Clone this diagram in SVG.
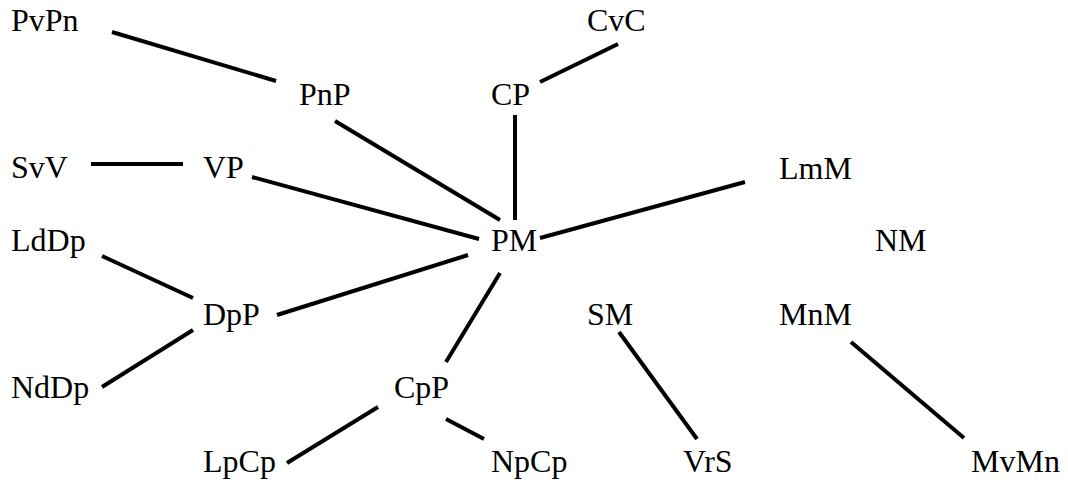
<svg xmlns="http://www.w3.org/2000/svg" width="1068" height="487" viewBox="0 0 1068 487">
<style>
.e line{stroke:#000;stroke-width:4;stroke-linecap:butt}
</style>
<rect width="1068" height="487" fill="#fff"/>
<g class="e" id="connectors">
<line x1="112" y1="32" x2="276" y2="81"/>
<line x1="91" y1="164" x2="183" y2="164"/>
<line x1="252" y1="177" x2="479" y2="239"/>
<line x1="335" y1="121" x2="500" y2="220"/>
<line x1="515" y1="115" x2="515" y2="220"/>
<line x1="540" y1="82" x2="618" y2="44"/>
<line x1="540" y1="238" x2="745" y2="182"/>
<line x1="468" y1="255" x2="277" y2="315"/>
<line x1="102" y1="256" x2="193" y2="298"/>
<line x1="102" y1="387" x2="193" y2="330"/>
<line x1="500" y1="273" x2="446" y2="362"/>
<line x1="378" y1="407" x2="287" y2="463"/>
<line x1="446" y1="419" x2="484" y2="439"/>
<line x1="619" y1="332" x2="697" y2="439"/>
<line x1="851" y1="342" x2="964" y2="438"/>
</g>
<g id="nodes" font-family="Liberation Serif, DejaVu Serif, serif" font-size="32" fill="#000">
<g id="PvPn"><text x="11" y="31">PvPn</text></g>
<g id="CvC"><text x="587" y="31">CvC</text></g>
<g id="PnP"><text x="299" y="105">PnP</text></g>
<g id="CP"><text x="491" y="105">CP</text></g>
<g id="SvV"><text x="11" y="178">SvV</text></g>
<g id="VP"><text x="203" y="178">VP</text></g>
<g id="LmM"><text x="779" y="179">LmM</text></g>
<g id="LdDp"><text x="11" y="251">LdDp</text></g>
<g id="PM"><text x="491" y="251">PM</text></g>
<g id="NM"><text x="875" y="251">NM</text></g>
<g id="DpP"><text x="203" y="325">DpP</text></g>
<g id="SM"><text x="587" y="325">SM</text></g>
<g id="MnM"><text x="779" y="325">MnM</text></g>
<g id="NdDp"><text x="11" y="398">NdDp</text></g>
<g id="CpP"><text x="394" y="398">CpP</text></g>
<g id="LpCp"><text x="203" y="472">LpCp</text></g>
<g id="NpCp"><text x="491" y="472">NpCp</text></g>
<g id="VrS"><text x="683" y="472">VrS</text></g>
<g id="MvMn"><text x="971" y="472">MvMn</text></g>
</g>
</svg>
